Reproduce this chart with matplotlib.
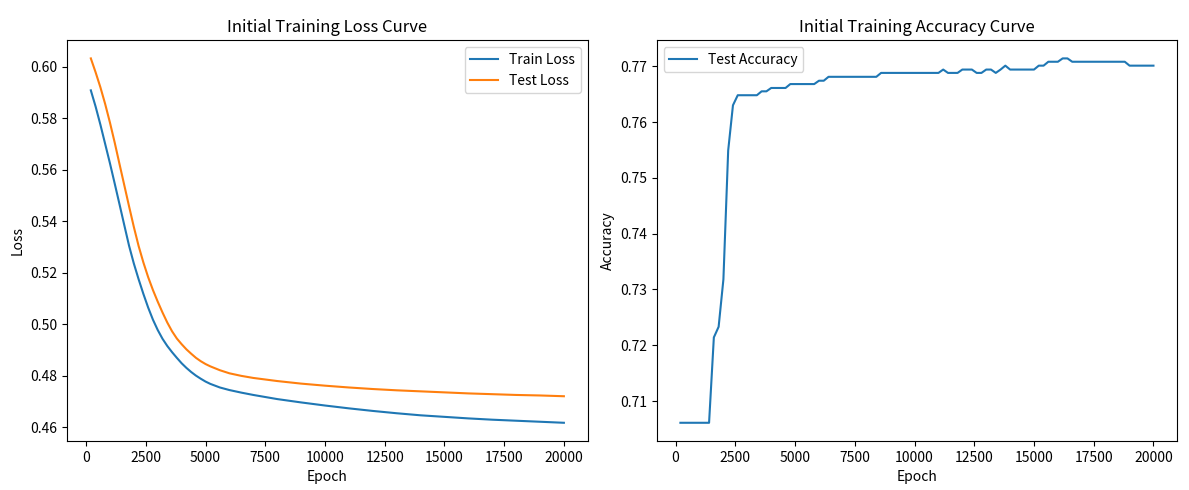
import matplotlib
matplotlib.use('Agg')
import matplotlib.pyplot as plt

plt.rcParams['font.family'] = ['Noto Sans CJK SC', 'DejaVu Sans']

# Loss curves (at selected epochs)
loss_epochs = [200, 400, 600, 800, 1000, 1200, 1400, 1600, 1800, 2000,
               2200, 2400, 2600, 2800, 3000, 3200, 3400, 3600, 3800, 4000,
               4200, 4400, 4600, 4800, 5000, 5200, 5600, 6000, 6500, 7000,
               8000, 9000, 10000, 11000, 12000, 13000, 14000, 15000, 16000,
               17000, 18000, 19000, 20000]
train_loss = [0.5908, 0.5845, 0.5775, 0.5700, 0.5625, 0.5546, 0.5466, 0.5385, 0.5305, 0.5236,
              0.5175, 0.5118, 0.5065, 0.5018, 0.4978, 0.4944, 0.4916, 0.4892, 0.4870, 0.4849,
              0.4831, 0.4815, 0.4801, 0.4789, 0.4778, 0.4769, 0.4755, 0.4745, 0.4735, 0.4726,
              0.4710, 0.4697, 0.4685, 0.4674, 0.4664, 0.4655, 0.4647, 0.4641, 0.4635,
              0.4630, 0.4626, 0.4622, 0.4618]
test_loss = [0.6032, 0.5978, 0.5920, 0.5855, 0.5783, 0.5705, 0.5622, 0.5540, 0.5458, 0.5378,
             0.5304, 0.5240, 0.5183, 0.5133, 0.5088, 0.5046, 0.5007, 0.4973, 0.4945, 0.4923,
             0.4903, 0.4886, 0.4870, 0.4857, 0.4846, 0.4837, 0.4822, 0.4810, 0.4800, 0.4792,
             0.4780, 0.4770, 0.4762, 0.4755, 0.4749, 0.4744, 0.4740, 0.4736, 0.4732,
             0.4729, 0.4726, 0.4724, 0.4721]

# Test accuracy, one value every 200 epochs (200 .. 20000)
acc_epochs = list(range(200, 20001, 200))
test_acc = (
    [0.7061] * 7
    + [0.7214, 0.7233, 0.7318, 0.7549, 0.7630]
    + [0.7648] * 5
    + [0.7655] * 2
    + [0.7661] * 4
    + [0.7668] * 6
    + [0.7674] * 2
    + [0.7681] * 11
    + [0.7688] * 13
    + [0.7694]
    + [0.7688] * 3
    + [0.7694] * 3
    + [0.7688] * 2
    + [0.7694] * 2
    + [0.7688]
    + [0.7694]
    + [0.7701]
    + [0.7694] * 6
    + [0.7701] * 2
    + [0.7708] * 3
    + [0.7714] * 2
    + [0.7708] * 12
    + [0.7701] * 6
)

fig, (ax1, ax2) = plt.subplots(1, 2, figsize=(11.89, 4.9), dpi=100)
fig.subplots_adjust(left=0.0565, right=0.99, top=0.918, bottom=0.1, wspace=0.133)

ax1.plot(loss_epochs, train_loss, label='Train Loss')
ax1.plot(loss_epochs, test_loss, label='Test Loss')
ax1.set_title('Initial Training Loss Curve')
ax1.set_xlabel('Epoch')
ax1.set_ylabel('Loss')
ax1.legend()

ax2.plot(acc_epochs, test_acc, label='Test Accuracy')
ax2.set_title('Initial Training Accuracy Curve')
ax2.set_xlabel('Epoch')
ax2.set_ylabel('Accuracy')
ax2.legend()

plt.savefig('out.png', dpi=100)
